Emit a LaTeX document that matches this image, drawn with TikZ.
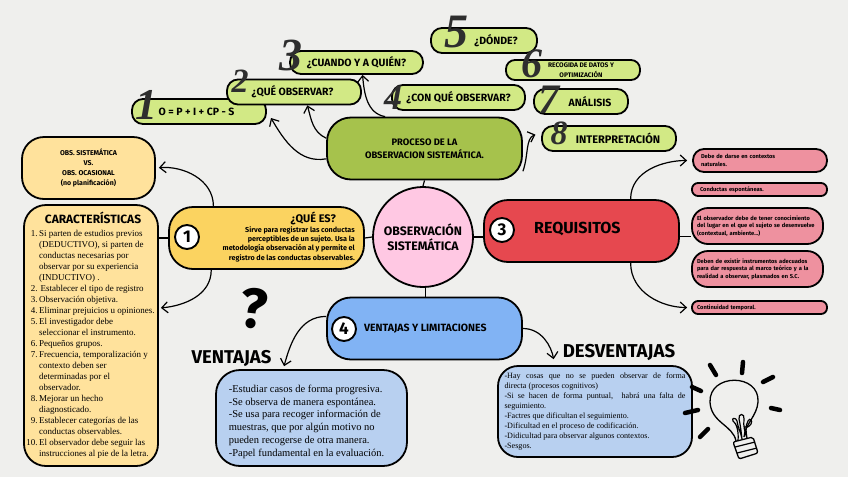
\documentclass[tikz,border=0pt]{standalone}
\usepackage{fontspec}
\setmainfont{Liberation Serif}
\newfontfamily\fira{Fira Sans}
\usetikzlibrary{arrows.meta, positioning, calc}
\definecolor{papel}{HTML}{EFEFED}
\definecolor{verde}{HTML}{D2E985}
\definecolor{verdeosc}{HTML}{A6C24C}
\definecolor{crema}{HTML}{FFE29C}
\definecolor{amarillo}{HTML}{FBD360}
\definecolor{rosa}{HTML}{FFC8E3}
\definecolor{rojo}{HTML}{E6484F}
\definecolor{rojoclaro}{HTML}{EE919F}
\definecolor{azul}{HTML}{81B3F4}
\definecolor{azulclaro}{HTML}{B8D0F0}
\definecolor{tinta}{HTML}{2E2E2E}
\tikzset{
  % Cajas
  box/.style={draw=black,line width=1.8,inner sep=0,align=center,text=black},
  box green/.style={box,fill=verde,rounded corners=11,minimum height=25,
    font=\fira\bfseries\fontsize{10.5}{12}\selectfont},
  box cream/.style={box,fill=crema,rounded corners=22},
  box main/.style={box,rounded corners=24,minimum width=195,minimum height=62},
  box red/.style={box,fill=rojoclaro,align=left,inner xsep=8,
    font=\fira\bfseries\fontsize{5.7}{7.4}\selectfont},
  box blue/.style={box,fill=azulclaro,rounded corners=24,align=left,
    font=\fontsize{10.5}{12.8}\selectfont},
  % Numeros
  num/.style={font=\bfseries\itshape\fontsize{#1}{#1}\selectfont,text=tinta,inner sep=0},
  num circle/.style={circle,draw=black,line width=1.9,fill=white,minimum size=24,inner sep=0,
    font=\fira\bfseries\fontsize{17}{17}\selectfont},
  title/.style={inner sep=0,font=\fira\bfseries\fontsize{#1}{#1}\selectfont},
  % Conexiones
  connect/.style={line width=1.2,black},
  connect arrow/.style={connect,-{Straight Barb[length=6,width=11]}},
  ray/.style={line width=4.5,line cap=round,black}
}
\begin{document}
\begin{tikzpicture}[x=1pt,y=-1pt]
  \fill[papel] (0,0) rectangle (848,477);
  % proceso
  \node[box green,minimum width=134] (formula) at (199,111.5) {O = P + I + CP - S\hspace*{5pt}};
  \node[box green,minimum width=134] (queobs) at (294,92) {¿QUÉ OBSERVAR?\hspace*{3pt}};
  \node[box green,minimum width=133,minimum height=23] (cuando) at (356.5,62.5) {¿CUANDO Y A QUIÉN?};
  \node[box green,minimum width=106] (donde) at (484,40.5) {\hspace*{24pt}¿DÓNDE?};
  \node[box green,minimum width=134,minimum height=20,rounded corners=9,
    font=\fira\bfseries\fontsize{6.6}{9.6}\selectfont] (recogida) at (573,70) {\hspace*{16pt}RECOGIDA DE DATOS Y\\\hspace*{16pt}OPTIMIZACIÓN};
  \node[box green,minimum width=133] (conque) at (458.5,97.5) {¿CON QUÉ OBSERVAR?};
  \node[box green,minimum width=94] (analisis) at (581,101.5) {\hspace*{18pt}ANÁLISIS};
  \node[box green,minimum width=134,font=\fira\bfseries\fontsize{11}{12}\selectfont] (interp) at (609,138.5) {\hspace*{18pt}INTERPRETACIÓN};
  \node[box main,fill=verdeosc,font=\fira\bfseries\fontsize{9.4}{13}\selectfont] (proceso) at (424.5,148.5) {PROCESO DE LA\\OBSERVACION SISTEMÁTICA.};
  % numeros
  \node[num=44] (n1) at (146,105) {1};
  \node[num=34] (n2) at (240,81) {2};
  \node[num=46] (n3) at (291,55) {3};
  \node[num=36] (n4) at (393,98) {4};
  \node[num=48] (n5) at (456,32) {5};
  \node[num=42] (n6) at (532,64) {6};
  \node[num=42] (n7) at (549,100) {7};
  \node[num=34] (n8) at (559,133) {8};
  % centro
  \node[circle,draw=black,line width=1.8,fill=rosa,minimum size=100,inner sep=0,align=center,
    font=\fira\bfseries\fontsize{12.3}{15}\selectfont] (centro) at (423,237) {OBSERVACIÓN\\SISTEMÁTICA};
  % que es
  \node[box main,fill=amarillo] (quees) at (266.5,238) {};
  \node[num circle] (c1) at (187,237) {1};
  \node[title=11,anchor=east] (queestit) at (336,218) {¿QUÉ ES?};
  \node[inner sep=0,anchor=north east,align=right,font=\fira\bfseries\fontsize{7.2}{9.4}\selectfont] (queestxt) at (355,226)
    {Sirve para registrar las conductas\\perceptibles de un sujeto. Usa la\\metodología observación al y permite el\\registro de las conductas observables.};
  \node[box cream,minimum width=133,minimum height=62,font=\fira\bfseries\fontsize{7}{9.8}\selectfont] (obs) at (88.5,168)
    {OBS. SISTEMÁTICA\\VS.\\OBS. OCASIONAL\\(no planificación)};
  \node[box cream,minimum width=134,minimum height=261] (carac) at (91,335.5) {};
  \node[title=12] (caractit) at (93,218) {CARACTERÍSTICAS};
  \node[inner sep=0,anchor=north west,align=left,font=\fontsize{9}{11}\selectfont] (caraclist) at (39,230.5) {%
    \llap{1.\,}Si parten de estudios previos\\
    (DEDUCTIVO), si parten de\\
    conductas necesarias por\\
    observar por su experiencia\\
    (INDUCTIVO) .\\
    \llap{2.\,}\,Establecer el tipo de registro\\
    \llap{3.\,}Observación objetiva.\\
    \llap{4.\,}Eliminar prejuicios u opiniones.\\
    \llap{5.\,}El investigador debe\\
    seleccionar el instrumento.\\
    \llap{6.\,}Pequeños grupos.\\
    \llap{7.\,}Frecuencia, temporalización y\\
    contexto deben ser\\
    determinadas por el\\
    observador.\\
    \llap{8.\,}Mejorar un hecho\\
    diagnosticado.\\
    \llap{9.\,}Establecer categorías de las\\
    conductas observables.\\
    \llap{10.\,}El observador debe seguir las\\
    instrucciones al pie de la letra.};
  % requisitos
  \node[box main,fill=rojo] (req) at (581.5,231) {};
  \node[num circle] (c3) at (502,230) {3};
  \node[title=16,anchor=west] (reqtit) at (534,229) {REQUISITOS};
  \node[box red,rounded corners=11,minimum width=134,minimum height=23,text width=118] (r1) at (760,160.5) {Debe de darse en contextos\\naturales.};
  \node[box red,rounded corners=6,minimum width=135,minimum height=13,text width=119] (r2) at (759.5,189.5) {Conductas espontáneas.};
  \node[box red,rounded corners=16,minimum width=131,minimum height=36,text width=121,inner xsep=5] (r3) at (757.5,226) {El observador debe de tener conocimiento\\del lugar en el que el sujeto se desenvuelve\\(contextual, ambiente...)};
  \node[box red,rounded corners=16,minimum width=131,minimum height=36,text width=121,inner xsep=5] (r4) at (757.5,269) {Deben de existir instrumentos adecuados\\para dar respuesta al marco teórico y a la\\realidad a observar, plasmados en S.C.};
  \node[box red,rounded corners=6,minimum width=135,minimum height=13,text width=125,inner xsep=5] (r5) at (759.5,307.5) {Continuidad temporal.};
  % ventajas
  \node[box main,fill=azul] (ventlim) at (424.5,328.5) {};
  \node[num circle] (c4) at (344,329) {4};
  \node[title=10.5,anchor=west] (ventlimtit) at (364,329) {VENTAJAS Y LIMITACIONES};
  \node[title=18.5] (venttit) at (231.5,358) {VENTAJAS};
  \node[title=18.6] (desvtit) at (619,352) {DESVENTAJAS};
  \node[box blue,minimum width=191,minimum height=96] (ventajas) at (311.5,418) {%
    \rule{0pt}{15pt}-Estudiar casos de forma progresiva.\\
    -Se observa de manera espontánea.\\
    -Se usa para recoger información de\\
    muestras, que por algún motivo no\\
    pueden recogerse de otra manera.\\
    -Papel fundamental en la evaluación.\hspace*{10pt}};
  \node[box blue,minimum width=194,minimum height=91,rounded corners=20,
    font=\fontsize{8.1}{10}\selectfont] (desv) at (595,411.5) {%
    \makebox[181pt][s]{-Hay cosas que no se pueden observar de forma}\\
    directa (procesos cognitivos)\\
    \makebox[181pt][s]{-Si se hacen de forma puntual, \ habrá una falta de}\\
    seguimiento.\\
    -Factres que dificultan el seguimiento.\\
    -Dificultad en el proceso de codificación.\\
    -Didicultad para observar algunos contextos.\\
    -Sesgos.};
  \node[inner sep=0,font=\fira\bfseries\fontsize{56}{56}\selectfont,rotate=-6] (pregunta) at (254,309) {?};
  % lineas
  \draw[connect] (proceso.south) -- (centro.north);
  \draw[connect] (quees.east) -- (centro.west);
  \draw[connect] (centro.east) -- (req.west |- centro.east);
  \draw[connect] (centro.-87) -- (ventlim.north -| centro.-87);
  \draw[connect] (quees.west) -- (carac.east |- quees.west);
  \draw[connect] (req.-3) -- (r3.west |- req.-3);
  % flechas
  \coordinate (puntaformula) at (271,118);
  \draw[connect arrow] (proceso.186) to[out=190,in=-60] (puntaformula);
  \draw[connect arrow] (proceso.174) to[out=155,in=-75] (queobs.-45);
  \draw[connect arrow] (proceso.141) to[out=170,in=-85] (cuando.-64);
  \draw[connect arrow,shorten >=6] (proceso.-13) to[out=70,in=200] (interp.175);
  \draw[connect arrow,shorten >=3] (quees.149) to[out=90,in=5] (obs.east);
  \draw[connect arrow,shorten >=2] (quees.210) to[out=-90,in=5] (carac.22);
  \draw[connect arrow,shorten >=5] (req.33) to[out=90,in=180] (r1.west);
  \draw[connect arrow,shorten >=4] (req.-33) to[out=-90,in=180] (r5.west);
  \draw[connect arrow,shorten >=3] (ventlim.173) to[out=180,in=75] (ventajas.120);
  \draw[connect arrow,shorten >=6] (ventlim.east) to[out=0,in=100] (desv.131);
  % bombilla
  \draw[ray] (710,365) -- (716,375);
  \draw[ray] (743,362) -- (742,373);
  \draw[ray] (773,377) -- (763,382);
  \draw[ray] (771,408) -- (780,410);
  \draw[ray] (698,410) -- (685,413);
  \draw[ray] (692,387) -- (701,391);
  \draw[ray] (708,429) -- (700,437);
  \draw[line width=1.3] (736,441) .. controls (733,425) and (711,423) .. (710,402)
    .. controls (709,373) and (760,373) .. (758,402)
    .. controls (757,416) and (745,424) .. (744,437);
  \draw[line width=1.3,fill=papel,rounded corners=2] (733,442) -- (753,437) -- (758,453) -- (739,459) -- cycle;
  \draw[line width=1.2] (735,447) -- (755,442) (737,453) -- (757,448);
  \draw[line width=1.2] (738,441) .. controls (739,430) and (736,423) .. (733,421)
    .. controls (731,418) and (736,417) .. (737,421) .. controls (738,428) and (741,433) .. (742,439)
    (742,439) .. controls (741,430) and (740,423) .. (739,419) .. controls (738,413) and (745,413) .. (744,419)
    .. controls (743,426) and (745,433) .. (747,438)
    (747,438) .. controls (746,432) and (745,426) .. (748,421) .. controls (750,417) and (753,421) .. (751,424)
    .. controls (749,427) and (746,428) .. (744,427);
\end{tikzpicture}
\end{document}
